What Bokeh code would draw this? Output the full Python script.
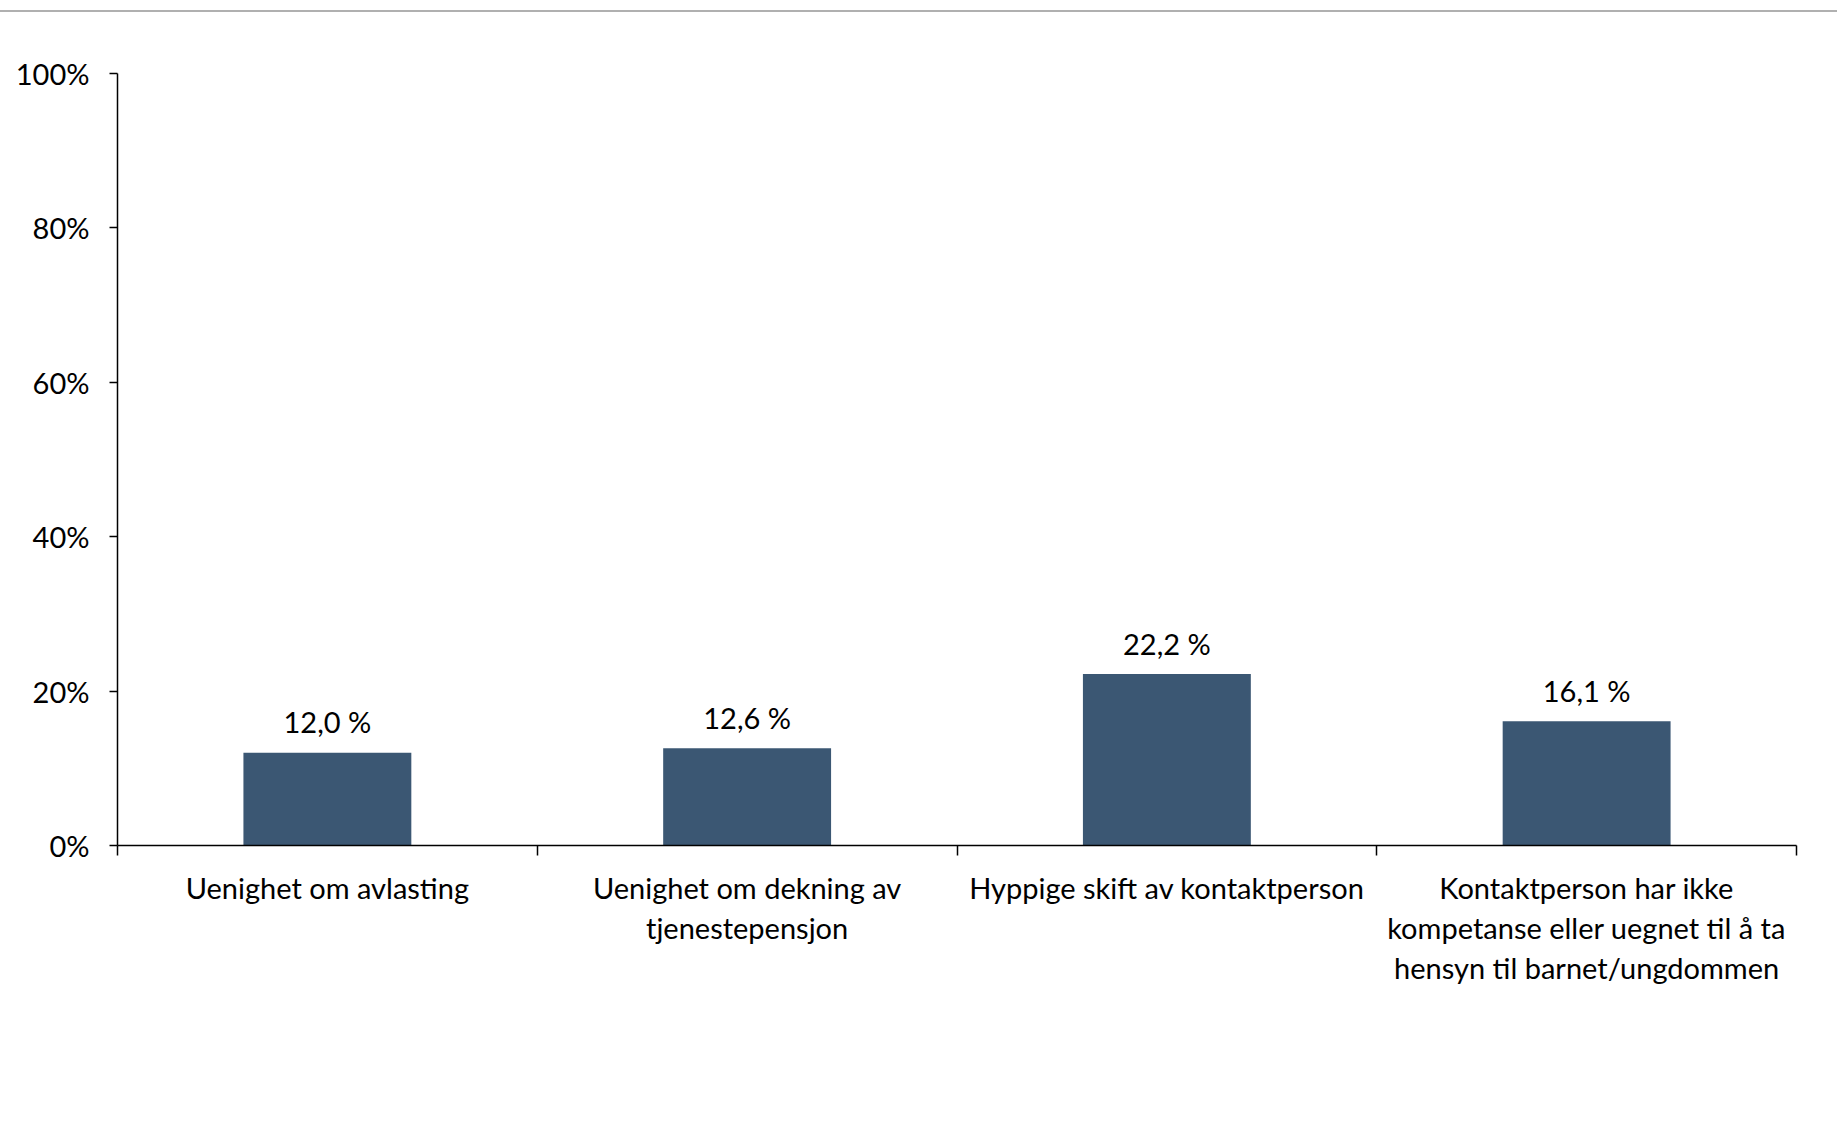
from bokeh.plotting import figure
from bokeh.models import Range1d, FixedTicker, LabelSet, ColumnDataSource, Div
from bokeh.layouts import column
from bokeh.core.properties import value
from bokeh.embed import file_html
from bokeh.resources import INLINE

categories = [
    "Uenighet om avlasting",
    "Uenighet om dekning av\ntjenestepensjon",
    "Hyppige skift av kontaktperson",
    "Kontaktperson har ikke\nkompetanse eller uegnet til å ta\nhensyn til barnet/ungdommen",
]
values = [12.0, 12.6, 22.2, 16.1]
y_ticks = [0, 20, 40, 60, 80, 100]
y_tick_labels = ["0%", "20%", "40%", "60%", "80%", "100%"]

FONT = "Lato"
FS = "29px"

n = len(categories)
centers = [i + 0.5 for i in range(n)]
bounds = [i for i in range(n + 1)]
value_labels = [f"{v:.1f} %".replace(".", ",") for v in values]

src = ColumnDataSource(dict(x=centers, top=values, label=value_labels))

p = figure(width=1821, height=1100, output_backend="svg", toolbar_location=None,
           x_range=Range1d(0, n), y_range=Range1d(0, 100),
           min_border_left=117, min_border_right=25, min_border_top=61, min_border_bottom=267)
p.outline_line_color = None
p.xgrid.visible = False
p.ygrid.visible = False
p.background_fill_color = "white"
p.border_fill_color = "white"

p.vbar(x="x", top="top", bottom=0, width=0.4, source=src, fill_color="#3B5773", line_color=None)

labels = LabelSet(x="x", y="top", text="label", source=src, y_offset=31,
                  text_align="center", text_baseline="middle",
                  text_font=value(FONT), text_font_size=value(FS), text_color="black")
p.add_layout(labels)

xa = p.xaxis[0]
xa.ticker = FixedTicker(ticks=centers, minor_ticks=bounds)
xa.major_label_overrides = {c: lab for c, lab in zip(centers, categories)}
xa.major_tick_out = 0
xa.major_tick_in = 0
xa.minor_tick_out = 10
xa.minor_tick_in = 0
xa.minor_tick_line_color = "black"
xa.minor_tick_line_width = 1.5
xa.axis_line_color = "black"
xa.axis_line_width = 1.5
xa.major_label_text_font = FONT
xa.major_label_text_font_size = FS
xa.major_label_text_color = "black"
xa.major_label_standoff = 14
xa.major_label_text_line_height = 1.15

ya = p.yaxis[0]
ya.ticker = FixedTicker(ticks=y_ticks, minor_ticks=[])
ya.major_label_overrides = {t: lab for t, lab in zip(y_ticks, y_tick_labels)}
ya.major_tick_out = 8
ya.major_tick_in = 0
ya.major_tick_line_color = "black"
ya.major_tick_line_width = 1.5
ya.minor_tick_line_color = None
ya.axis_line_color = "black"
ya.axis_line_width = 1.5
ya.major_label_text_font = FONT
ya.major_label_text_font_size = FS
ya.major_label_text_color = "black"
ya.major_label_standoff = 20

top_line = Div(text="", width=1837, height=2, margin=(10, 0, 0, 0),
               styles={"background-color": "#b0b0b0"})

layout = column(top_line, p, spacing=0)

open("out.html", "w").write(file_html(layout, INLINE))
